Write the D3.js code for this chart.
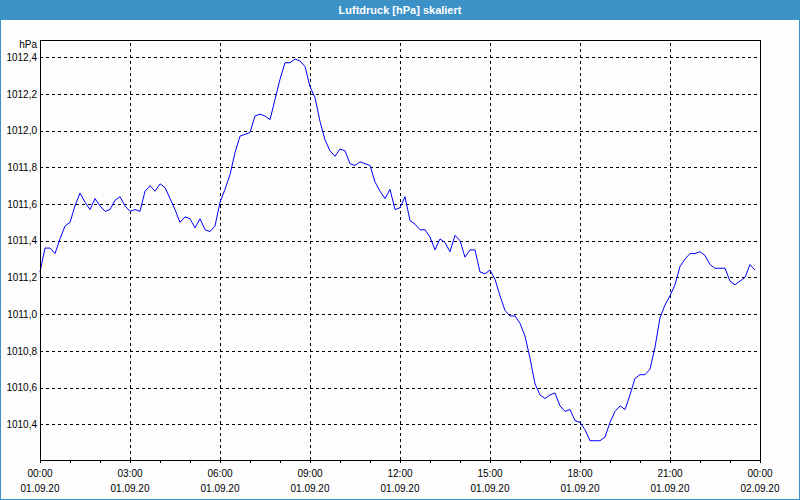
<!DOCTYPE html>
<html lang="de">
<head>
    <meta charset="UTF-8">
    <title>Luftdruck [hPa] skaliert</title>
    <style>
    body {
        margin: 0;
        width: 800px;
        height: 500px;
        overflow: hidden;
        background: #fcfdfc;
    }
    svg {
        display: block;
        font-family: "Liberation Sans", Arial, sans-serif;
    }
    .title {
        fill: #ffffff;
        font-size: 11px;
        font-weight: bold;
    }
    .grid line {
        stroke: #000;
        stroke-dasharray: 3,3;
        shape-rendering: crispEdges;
    }
    .grid path {
        display: none;
    }
    .axis text {
        fill: #000;
        font-size: 10px;
    }
    .axis path, .axis line {
        stroke: #000;
        shape-rendering: crispEdges;
    }
    .frame {
        fill: none;
        stroke: #000;
        shape-rendering: crispEdges;
    }
    .pressure {
        fill: none;
        stroke: #0000ff;
        stroke-width: 1;
    }
    </style>
</head>
<body>
    <div id="chart"></div>
    <script src="https://cdn.jsdelivr.net/npm/d3@7"></script>
    <script>
        // Messwerte alle 10 Minuten ab 01.09.20 00:00
        var startTime = new Date(2020, 8, 1, 0, 0);
        var endTime = new Date(2020, 8, 2, 0, 0);
        var stepMinutes = 10;
        var pressure = [
            1011.23, 1011.36, 1011.36, 1011.33, 1011.41, 1011.48, 1011.50, 1011.59, 1011.66, 1011.61,
            1011.57, 1011.63, 1011.59, 1011.56, 1011.57, 1011.62, 1011.64, 1011.59, 1011.56, 1011.57,
            1011.56, 1011.67, 1011.70, 1011.67, 1011.71, 1011.69, 1011.63, 1011.57, 1011.50, 1011.53,
            1011.52, 1011.47, 1011.52, 1011.46, 1011.45, 1011.48, 1011.61, 1011.68, 1011.76, 1011.88,
            1011.97, 1011.98, 1011.99, 1012.08, 1012.09, 1012.08, 1012.06, 1012.17, 1012.28, 1012.37,
            1012.37, 1012.39, 1012.38, 1012.35, 1012.24, 1012.18, 1012.05, 1011.95, 1011.89, 1011.86,
            1011.90, 1011.89, 1011.82, 1011.81, 1011.83, 1011.82, 1011.81, 1011.72, 1011.67, 1011.63,
            1011.68, 1011.57, 1011.58, 1011.64, 1011.51, 1011.49, 1011.46, 1011.46, 1011.42, 1011.35,
            1011.41, 1011.39, 1011.34, 1011.43, 1011.40, 1011.31, 1011.35, 1011.35, 1011.23, 1011.22,
            1011.24, 1011.19, 1011.10, 1011.02, 1010.99, 1010.99, 1010.95, 1010.88, 1010.76, 1010.62,
            1010.56, 1010.54, 1010.56, 1010.57, 1010.50, 1010.47, 1010.48, 1010.42, 1010.41, 1010.37,
            1010.31, 1010.31, 1010.31, 1010.33, 1010.41, 1010.47, 1010.50, 1010.48, 1010.56, 1010.65,
            1010.67, 1010.67, 1010.70, 1010.82, 1010.98, 1011.05, 1011.10, 1011.16, 1011.26, 1011.30,
            1011.33, 1011.33, 1011.34, 1011.32, 1011.27, 1011.25, 1011.25, 1011.25, 1011.18, 1011.16,
            1011.18, 1011.20, 1011.27, 1011.24
        ];
        var yTicks = [1010.4, 1010.6, 1010.8, 1011.0, 1011.2, 1011.4, 1011.6, 1011.8, 1012.0, 1012.2, 1012.4];
        var yDomain = [1010.205, 1012.494];
        var unitLabel = "hPa";
        var titleText = "Luftdruck [hPa] skaliert";

        var width = 800, height = 500;
        var margin = {top: 40, right: 40, bottom: 40, left: 40};
        var barColor = "#3c91c7";

        var data = pressure.map(function(v, i) {
            return {time: d3.timeMinute.offset(startTime, i * stepMinutes), value: v};
        });

        var de = d3.formatLocale({decimal: ",", thousands: ".", grouping: [3], currency: ["", " €"]});
        var yFormat = de.format(".1f");

        var svg = d3.select("#chart").append("svg")
            .attr("width", width)
            .attr("height", height);

        // Rahmen + Titelleiste
        svg.append("rect")
            .attr("x", 0.5).attr("y", 0.5)
            .attr("width", width - 1).attr("height", height - 1)
            .attr("fill", "#fcfdfc")
            .attr("stroke", barColor);
        svg.append("rect")
            .attr("x", 0).attr("y", 0)
            .attr("width", width).attr("height", 20)
            .attr("fill", barColor);
        svg.append("text")
            .attr("class", "title")
            .attr("x", width / 2)
            .attr("y", 14)
            .attr("text-anchor", "middle")
            .text(titleText);

        var x = d3.scaleTime()
            .domain([startTime, endTime])
            .range([margin.left, width - margin.right]);

        var y = d3.scaleLinear()
            .domain(yDomain)
            .range([height - margin.bottom, margin.top]);

        // Gitter
        svg.append("g")
            .attr("class", "grid")
            .attr("transform", "translate(" + margin.left + ",0)")
            .call(d3.axisLeft(y).tickValues(yTicks).tickSize(-(width - margin.left - margin.right)).tickFormat(""));

        svg.append("g")
            .attr("class", "grid")
            .attr("transform", "translate(0," + (height - margin.bottom) + ")")
            .call(d3.axisBottom(x).ticks(d3.timeHour.every(3)).tickSize(-(height - margin.top - margin.bottom)).tickFormat(""));

        // Kurve
        var line = d3.line()
            .x(function(d) { return x(d.time); })
            .y(function(d) { return y(d.value); });

        svg.append("path")
            .datum(data)
            .attr("class", "pressure")
            .attr("d", line);

        svg.append("rect")
            .attr("class", "frame")
            .attr("x", margin.left)
            .attr("y", margin.top)
            .attr("width", width - margin.left - margin.right)
            .attr("height", height - margin.top - margin.bottom);

        // Y-Achse
        var yAxis = svg.append("g")
            .attr("class", "axis")
            .attr("transform", "translate(" + margin.left + ",0)")
            .call(d3.axisLeft(y).tickValues(yTicks).tickSize(0).tickPadding(3).tickFormat(yFormat));
        yAxis.select(".domain").remove();

        svg.append("text")
            .attr("class", "axis")
            .attr("x", 37)
            .attr("y", 48)
            .attr("text-anchor", "end")
            .style("font-size", "10px")
            .text(unitLabel);

        // X-Achse: Stunden-Striche, Beschriftung alle 3 Stunden
        var xAxis = svg.append("g")
            .attr("class", "axis")
            .attr("transform", "translate(0," + (height - margin.bottom) + ")")
            .call(d3.axisBottom(x).ticks(d3.timeHour.every(1)).tickSize(3).tickFormat(""));
        xAxis.select(".domain").remove();

        var labelTicks = x.ticks(d3.timeHour.every(3));
        var fmtTime = d3.timeFormat("%H:%M");
        var fmtDate = d3.timeFormat("%d.%m.%y");

        var xl = svg.append("g")
            .attr("class", "axis")
            .selectAll("g")
            .data(labelTicks)
            .enter().append("g")
            .attr("transform", function(d) { return "translate(" + x(d) + ",0)"; });
        xl.append("text")
            .attr("y", 477)
            .attr("text-anchor", "middle")
            .text(function(d) { return fmtTime(d); });
        xl.append("text")
            .attr("y", 492)
            .attr("text-anchor", "middle")
            .text(function(d) { return fmtDate(d); });
    </script>
</body>
</html>
